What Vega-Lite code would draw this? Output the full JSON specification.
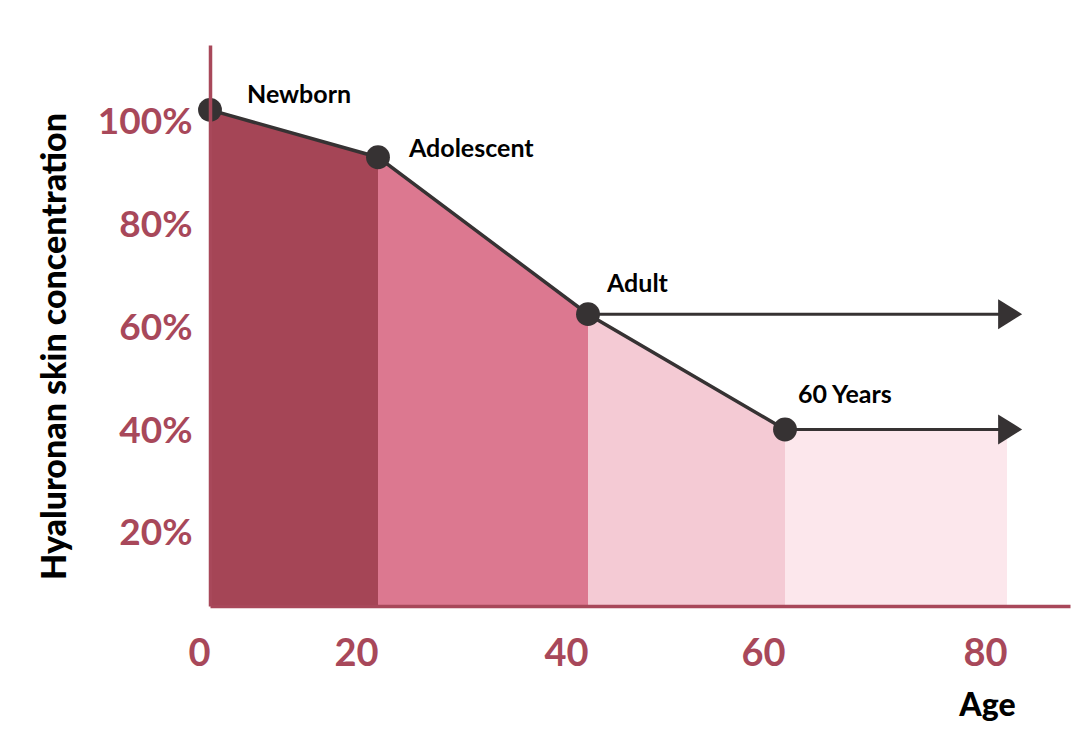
{
  "$schema": "https://vega.github.io/schema/vega-lite/v6.json",
  "width": 860,
  "height": 561,
  "autosize": {"type": "none"},
  "padding": {"left": 210, "top": 45, "right": 14, "bottom": 135},
  "background": "white",
  "config": {"view": {"stroke": null}, "font": "Lato"},
  "datasets": {
    "points": [
      {"age": 0, "conc": 102.4, "stage": "Newborn"},
      {"age": 20, "conc": 93.2, "stage": "Adolescent"},
      {"age": 40, "conc": 62.7, "stage": "Adult"},
      {"age": 60, "conc": 40.3, "stage": "60 Years"}
    ],
    "regions": [
      {"age": 0, "conc": 102.4, "band": "0-20"},
      {"age": 20, "conc": 93.2, "band": "0-20"},
      {"age": 20, "conc": 93.2, "band": "20-40"},
      {"age": 40, "conc": 62.7, "band": "20-40"},
      {"age": 40, "conc": 62.7, "band": "40-60"},
      {"age": 60, "conc": 40.3, "band": "40-60"},
      {"age": 60, "conc": 40.3, "band": "60-80"},
      {"age": 80, "conc": 40.3, "band": "60-80"}
    ],
    "arrows": [
      {"age": 40, "end": 80.3, "conc": 62.7},
      {"age": 60, "end": 80.3, "conc": 40.3}
    ],
    "heads": [
      {"age": 80.3, "conc": 62.7},
      {"age": 80.3, "conc": 40.3}
    ]
  },
  "encoding": {
    "x": {
      "field": "age",
      "type": "quantitative",
      "scale": {"domain": [0, 20, 40, 60, 80, 86], "range": [0, 168, 378, 575, 797, 860], "nice": false, "zero": false},
      "axis": {
        "values": [0, 20, 40, 60, 80],
        "title": "Age",
        "grid": false,
        "ticks": false,
        "tickSize": 0,
        "zindex": 1,
        "domainColor": "#a8485a",
        "domainWidth": 3.5,
        "labelFont": "Lato",
        "labelFontSize": 38,
        "labelFontWeight": "bold",
        "labelColor": "#a8485a",
        "labelAlign": "right",
        "labelDx": 3,
        "labelBaseline": "alphabetic",
        "labelPadding": 59,
        "labelFlush": false,
        "labelOverlap": false,
        "titleFont": "Lato",
        "titleFontSize": 32,
        "titleFontWeight": 900,
        "titleColor": "#000000",
        "titleX": 777,
        "titleY": 109,
        "titleAlign": "center",
        "titleBaseline": "alphabetic"
      }
    },
    "y": {
      "field": "conc",
      "type": "quantitative",
      "scale": {"domain": [6, 115], "nice": false, "zero": false},
      "axis": {
        "values": [20, 40, 60, 80, 100],
        "labelExpr": "datum.value + '%'",
        "title": "Hyaluronan skin concentration",
        "grid": false,
        "ticks": false,
        "tickSize": 0,
        "zindex": 1,
        "domainColor": "#a8485a",
        "domainWidth": 3.5,
        "labelFont": "Lato",
        "labelFontSize": 37,
        "labelFontWeight": "bold",
        "labelColor": "#a8485a",
        "labelPadding": 18,
        "labelOverlap": false,
        "titleFont": "Lato",
        "titleFontSize": 34,
        "titleFontWeight": 900,
        "titleColor": "#000000",
        "titleX": -145,
        "titleY": 301,
        "titleAngle": 270,
        "titleAlign": "center",
        "titleBaseline": "alphabetic"
      }
    }
  },
  "layer": [
    {
      "data": {"name": "regions"},
      "mark": {"type": "area", "opacity": 1},
      "encoding": {
        "y2": {"datum": 6},
        "color": {
          "field": "band",
          "type": "nominal",
          "scale": {"domain": ["0-20", "20-40", "40-60", "60-80"], "range": ["#a54556", "#dc7890", "#f4cad4", "#fce7ec"]},
          "legend": null
        }
      }
    },
    {
      "data": {"name": "points"},
      "mark": {"type": "line", "color": "#363233", "strokeWidth": 3.5},
      "encoding": {}
    },
    {
      "data": {"name": "arrows"},
      "mark": {"type": "rule", "color": "#363233", "strokeWidth": 3},
      "encoding": {"x2": {"field": "end"}}
    },
    {
      "data": {"name": "heads"},
      "mark": {"type": "point", "shape": "M -1 -1.25 L 1 0 L -1 1.25 Z", "filled": true, "color": "#363233", "size": 576, "opacity": 1, "strokeWidth": 0}
    },
    {
      "data": {"name": "points"},
      "mark": {"type": "circle", "size": 570, "color": "#363233", "opacity": 1}
    },
    {
      "data": {"name": "points"},
      "transform": [{"filter": "datum.stage === 'Newborn'"}],
      "mark": {"type": "text", "align": "left", "baseline": "alphabetic", "dx": 37, "dy": -7, "font": "Lato", "fontSize": 25, "fontWeight": "bold", "color": "#000000"},
      "encoding": {"text": {"field": "stage"}}
    },
    {
      "data": {"name": "points"},
      "transform": [{"filter": "datum.stage === 'Adolescent'"}],
      "mark": {"type": "text", "align": "left", "baseline": "alphabetic", "dx": 31, "dy": 0, "font": "Lato", "fontSize": 25, "fontWeight": "bold", "color": "#000000"},
      "encoding": {"text": {"field": "stage"}}
    },
    {
      "data": {"name": "points"},
      "transform": [{"filter": "datum.stage === 'Adult'"}],
      "mark": {"type": "text", "align": "left", "baseline": "alphabetic", "dx": 19, "dy": -22, "font": "Lato", "fontSize": 25, "fontWeight": "bold", "color": "#000000"},
      "encoding": {"text": {"field": "stage"}}
    },
    {
      "data": {"name": "points"},
      "transform": [{"filter": "datum.stage === '60 Years'"}],
      "mark": {"type": "text", "align": "left", "baseline": "alphabetic", "dx": 13, "dy": -26, "font": "Lato", "fontSize": 25, "fontWeight": "bold", "color": "#000000"},
      "encoding": {"text": {"field": "stage"}}
    }
  ]
}
